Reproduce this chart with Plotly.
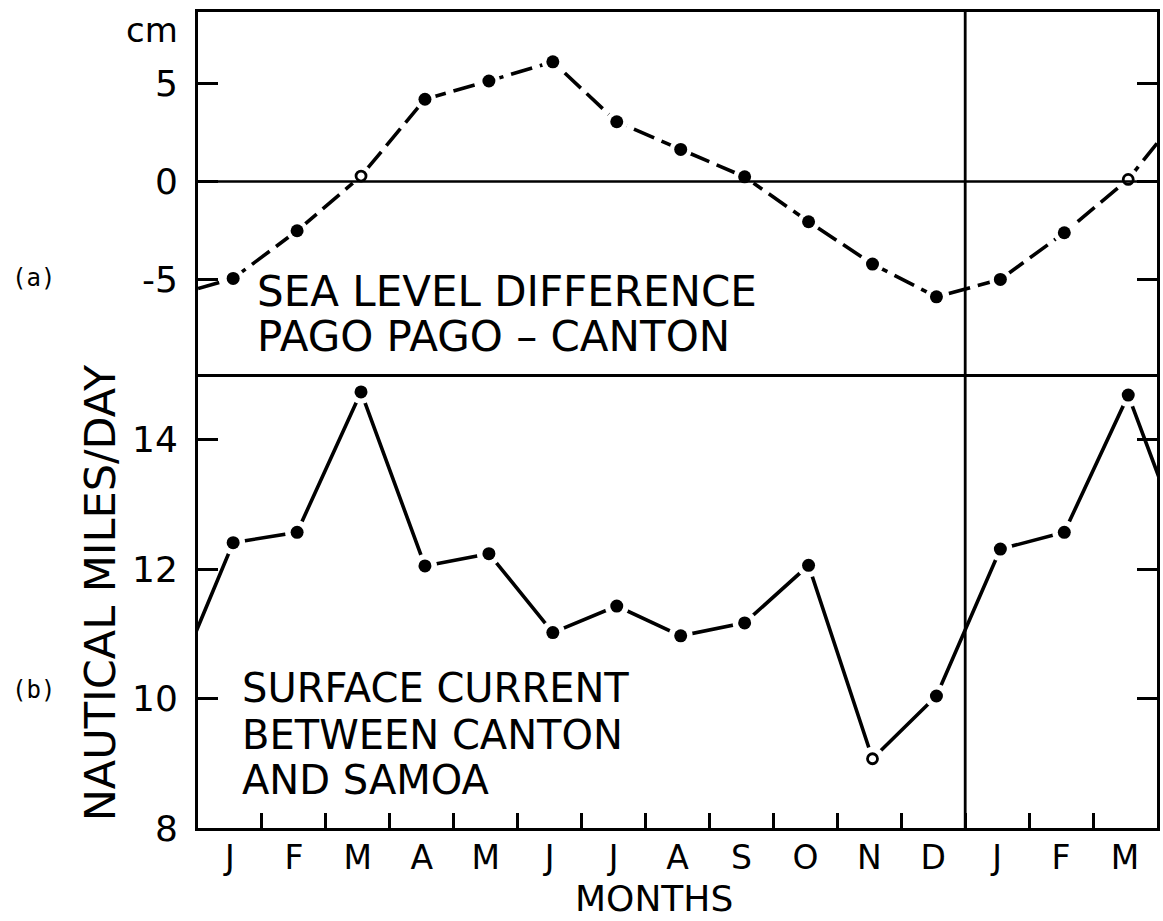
import numpy as np
import plotly.graph_objects as go

# Monthly values, January of year 1 through March of year 2
MONTH_LABELS = ["J", "F", "M", "A", "M", "J", "J", "A", "S", "O", "N", "D", "J", "F", "M"]
SEA_LEVEL_CM = [-4.94, -2.51, 0.28, 4.20, 5.13, 6.11, 3.05, 1.64, 0.24,
                -2.05, -4.21, -5.88, -4.99, -2.61, 0.11]
CURRENT_NMD = [12.41, 12.57, 14.74, 12.05, 12.24, 11.02, 11.43, 10.97, 11.17,
               12.06, 9.07, 10.04, 12.31, 12.57, 14.69]
SEA_TICKS = [-5, 0, 5]
CURRENT_TICKS = [8, 10, 12, 14]

# points drawn as open circles (indices into the monthly lists)
OPEN_SEA = [2, 14]
OPEN_CURRENT = [10]

N = len(MONTH_LABELS)
idx = np.arange(N)
x_mid = idx + 0.55            # plotted slightly past mid-month
x_lab = idx + 0.5             # label position, month centre

# the annual cycle continues past both frame edges (previous Dec, next Apr)
x_ext = np.concatenate([[x_mid[11] - 12], x_mid, [x_mid[3] + 12]])
sea_ext = [SEA_LEVEL_CM[11]] + SEA_LEVEL_CM + [SEA_LEVEL_CM[3]]
cur_ext = [CURRENT_NMD[11]] + CURRENT_NMD + [CURRENT_NMD[3]]

INK = "black"
W, H = 1163, 921
ML, MR, MT, MB = 198, 3, 12, 93
PW, PH = W - ML - MR, H - MT - MB
SPLIT = 1 - 365 / PH


def px(xp):
    return (xp - ML) / PW


def py(yp):
    return (H - MB - yp) / PH


fig = go.Figure()


def add_series(xs, ys, xm, ym, open_idx, yref, dash, halo):
    xa = "x" if yref == "y" else "x2"
    fig.add_trace(go.Scatter(x=xs, y=ys, mode="lines", xaxis=xa, yaxis=yref,
                             line=dict(color=INK, width=3.6, dash=dash),
                             hoverinfo="skip", showlegend=False))
    # white halo leaves a small gap where the line meets each point
    fig.add_trace(go.Scatter(x=xm, y=ym, mode="markers", xaxis=xa, yaxis=yref,
                             marker=dict(color="white", size=halo, line=dict(width=0)),
                             hoverinfo="skip", showlegend=False))
    filled = [i for i in range(len(xm)) if i not in open_idx]
    fig.add_trace(go.Scatter(x=[xm[i] for i in filled], y=[ym[i] for i in filled],
                             mode="markers", xaxis=xa, yaxis=yref,
                             marker=dict(color=INK, size=13, line=dict(width=0)),
                             showlegend=False))
    fig.add_trace(go.Scatter(x=[xm[i] for i in open_idx], y=[ym[i] for i in open_idx],
                             mode="markers", xaxis=xa, yaxis=yref,
                             marker=dict(symbol="circle-open", color=INK, size=10,
                                         line=dict(width=2.8, color=INK)),
                             showlegend=False))


add_series(x_ext, sea_ext, list(x_mid), SEA_LEVEL_CM, OPEN_SEA, "y", "22px,8px", 22)
add_series(x_ext, cur_ext, list(x_mid), CURRENT_NMD, OPEN_CURRENT, "y2", "solid", 24)

axis_common = dict(showline=True, linecolor=INK, linewidth=3,
                   showgrid=False, zeroline=False)

fig.update_layout(
    width=W, height=H,
    margin=dict(l=ML, r=MR, t=MT, b=MB),
    paper_bgcolor="white", plot_bgcolor="white",
    font=dict(family="DejaVu Sans", color=INK),
    # panel (a): frame line on top only; the shared border comes from panel (b)
    xaxis=dict(domain=[0, 1], range=[0, 15], anchor="y", side="top",
               showticklabels=False, ticks="", mirror=False, **axis_common),
    yaxis=dict(domain=[SPLIT, 1], range=[-9.97, 8.65], anchor="x",
               tickvals=SEA_TICKS, ticktext=[str(v) if v >= 0 else "-" + str(-v) for v in SEA_TICKS],
               ticks="inside", ticklen=20, tickwidth=2.8, tickcolor=INK,
               tickfont=dict(size=36, color=INK), ticklabelstandoff=10,
               mirror="ticks", **axis_common),
    xaxis2=dict(domain=[0, 1], range=[0, 15], anchor="y2",
                tickvals=list(x_lab), ticktext=MONTH_LABELS, ticks="",
                tickfont=dict(size=33, color=INK), ticklabelstandoff=-2,
                minor=dict(tickvals=list(range(1, N)), ticks="inside", ticklen=15,
                           tickwidth=2.6, tickcolor=INK, showgrid=False),
                mirror=True, **axis_common),
    yaxis2=dict(domain=[0, SPLIT], range=[8, 14.97], anchor="x2",
                tickvals=CURRENT_TICKS, ticks="inside", ticklen=20, tickwidth=2.8,
                tickcolor=INK, tickfont=dict(size=36, color=INK), ticklabelstandoff=10,
                mirror="ticks", **axis_common),
)

# zero line of panel (a) and the year boundary through both panels
fig.add_shape(type="line", xref="x", yref="y", x0=0, x1=15, y0=0, y1=0,
              line=dict(color=INK, width=2.6), layer="above")
fig.add_shape(type="line", xref="x", yref="paper", x0=12, x1=12, y0=0, y1=1,
              line=dict(color=INK, width=2.8), layer="above")


def label(text, x, y, size, xanchor="center", family="DejaVu Sans", angle=0):
    fig.add_annotation(text=text, xref="paper", yref="paper", x=px(x), y=py(y),
                       xanchor=xanchor, yanchor="middle", showarrow=False,
                       textangle=angle, font=dict(size=size, family=family, color=INK))


label("cm", 152, 30, 34)
label("(a)", 33, 278, 24, family="DejaVu Sans Mono")
label("(b)", 33, 690, 24, family="DejaVu Sans Mono")
label("NAUTICAL MILES/DAY", 100, 593, 43, angle=-90)
label("SEA LEVEL DIFFERENCE", 255, 291, 42, xanchor="left")
label("PAGO PAGO \u2013 CANTON", 255, 336, 42, xanchor="left")
label("SURFACE CURRENT", 240, 688, 40, xanchor="left")
label("BETWEEN CANTON", 240, 735, 40, xanchor="left")
label("AND SAMOA", 240, 780, 40, xanchor="left")
label("MONTHS", 655, 899, 36)

fig.write_html("out.html")
